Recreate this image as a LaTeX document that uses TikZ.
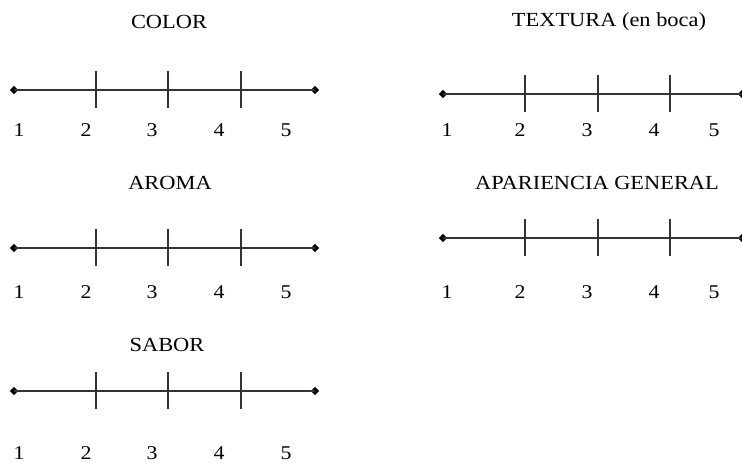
\documentclass[tikz,border=0pt]{standalone}
\usepackage{fontspec}
\setmainfont[FakeStretch=1.12]{Liberation Serif}
\usetikzlibrary{shapes.geometric}
\tikzset{
  scaleline/.style={line width=1.6pt, draw=black!80},
  tickmark/.style={line width=1.6pt, draw=black!80},
  enddot/.style={diamond, fill=black, inner sep=0pt, minimum size=8.5pt},
  numlabel/.style={font=\fontsize{19.5}{22}\selectfont, inner sep=0pt, anchor=center},
  titlelabel/.style={font=\fontsize{20}{22}\selectfont, inner sep=0pt, anchor=center}
}
% #1 name, #2 title, #3 title x, #4 title y, #5 line x0, #6 line x1, #7 line y,
% #8 ticks list, #9 label y ; label xs via \labxs
\newcommand{\myscale}[9]{%
  \node[titlelabel] (#1title) at (#3,#4) {#2};
  \node[enddot] (#1a) at (#5,#7) {};
  \node[enddot] (#1b) at (#6,#7) {};
  \draw[scaleline] (#1a.center) -- (#1b.center);
  \foreach \tx [count=\i] in {#8} {
    \coordinate (#1t\i u) at (\tx,#7-19);
    \coordinate (#1t\i d) at (\tx,#7+18);
    \draw[tickmark] (#1t\i u) -- (#1t\i d);
  }
  \foreach \lx [count=\j] in \labxs {
    \node[numlabel] (#1n\j) at (\lx,#9) {\j};
  }
}
\begin{document}
\begin{tikzpicture}[x=1pt,y=-1pt]
\useasboundingbox (0,0) rectangle (742,463);
\begin{scope}
\clip (0,0) rectangle (742,463);
\def\labxs{19,86,152,219,286}
\myscale{color}{COLOR}{169}{22}{14}{315}{90}{95.7,168,240.7}{130}
\myscale{aroma}{AROMA}{170}{183}{14}{315}{248}{95.7,168,240.7}{292}
\myscale{sabor}{SABOR}{167}{345}{14}{315}{391}{95.7,168,240.7}{453}
\def\labxs{447,520,587,654,714}
\myscale{tex}{TEXTURA (en boca)}{609}{22}{443}{742}{94}{525,598,670}{130}
\myscale{apa}{APARIENCIA GENERAL}{597}{183}{443}{742}{238}{525,598,670}{292}
\end{scope}
\end{tikzpicture}
\end{document}
